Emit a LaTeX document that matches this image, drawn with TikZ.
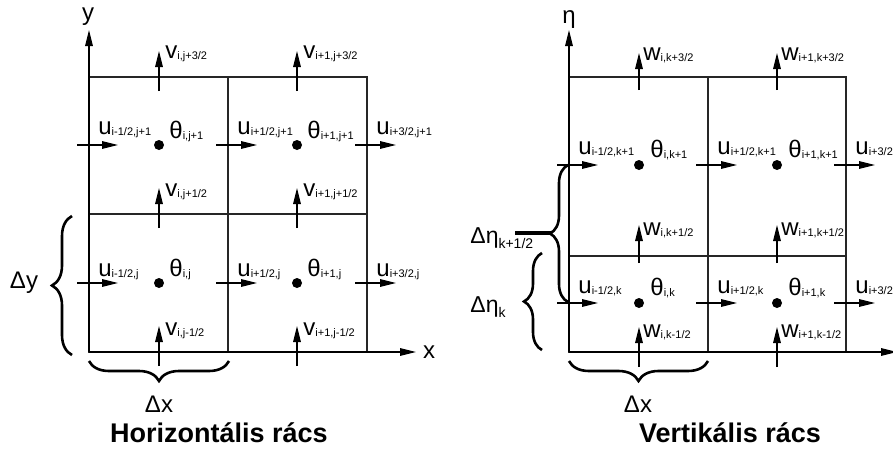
\documentclass[tikz,border=0pt]{standalone}
\usepackage{fontspec}
\setmainfont{Liberation Sans}
\usetikzlibrary{arrows.meta,decorations.pathreplacing,positioning}

% 变量标签: 主字母 + 下标
\newcommand{\vlab}[2]{{\fontsize{12}{12}\selectfont #1}\raisebox{-0.8pt}{\fontsize{5.5}{6}\selectfont #2}}
\newcommand{\dlab}[2]{{\fontsize{11.5}{12}\selectfont #1}\raisebox{-2.5pt}{\fontsize{7}{8}\selectfont #2}}

\tikzset{
    >={Triangle[length=8pt,width=3.8pt]},
    gridline/.style={line width=0.6pt, black!85},
    vec/.style={->, line width=0.6pt},
    dot/.style={circle, fill, inner sep=0pt, minimum size=5pt},
    lab/.style={anchor=base west, inner sep=0pt},
    brc/.style={decorate, decoration={brace, amplitude=#1}, line width=1.3pt},
    brc/.default=10pt,
    axlab/.style={font=\fontsize{12}{12}\selectfont},
    title/.style={font=\fontsize{13.5}{14}\selectfont\bfseries}
}

\begin{document}
\begin{tikzpicture}[x=0.5pt, y=-0.5pt]
    % --- 画布范围 (右侧被裁切) ---
    \useasboundingbox (0,0) rectangle (893,450);
    \clip (0,0) rectangle (893,450);

    % ================= 左图: 水平网格 =================
    % --- 网格和坐标轴 ---
    \draw[gridline] (89,77) rectangle (367,352);
    \draw[gridline] (228,77) -- (228,352);
    \draw[gridline] (89,214) -- (367,214);
    \draw[vec] (89,352) -- (89,30);
    \draw[vec] (89,352) -- (416,352);
    \node[axlab] (ly) at (88,17) {y};
    \node[axlab] (lx) at (429,352) {x};

    % --- u 箭头 (水平) 和 v 箭头 (垂直) ---
    \foreach \x in {89,228,367} \foreach \y in {145,283}
        \draw[vec] (\x-12,\y) -- (\x+29,\y);
    \foreach \x in {159,297} \foreach \y in {77,214,352}
        \draw[vec] (\x,\y+14) -- (\x,\y-26);

    % --- θ 点 ---
    \node[dot] (tA) at (159,145) {};
    \node[dot] (tB) at (297,145) {};
    \node[dot] (tC) at (159,283) {};
    \node[dot] (tD) at (297,283) {};

    % --- 标签 ---
    \node[lab] (uA) at (98,134) {\vlab{u}{i-1/2,j+1}};
    \node[lab] (uB) at (237,134) {\vlab{u}{i+1/2,j+1}};
    \node[lab] (uC) at (376,134) {\vlab{u}{i+3/2,j+1}};
    \node[lab] (uD) at (98,276) {\vlab{u}{i-1/2,j}};
    \node[lab] (uE) at (237,276) {\vlab{u}{i+1/2,j}};
    \node[lab] (uF) at (376,276) {\vlab{u}{i+3/2,j}};
    \node[lab] (thA) at (169,138) {\vlab{θ}{i,j+1}};
    \node[lab] (thB) at (307,138) {\vlab{θ}{i+1,j+1}};
    \node[lab] (thC) at (169,276) {\vlab{θ}{i,j}};
    \node[lab] (thD) at (307,276) {\vlab{θ}{i+1,j}};
    \node[lab] (vA) at (165,58) {\vlab{v}{i,j+3/2}};
    \node[lab] (vB) at (303,58) {\vlab{v}{i+1,j+3/2}};
    \node[lab] (vC) at (165,196) {\vlab{v}{i,j+1/2}};
    \node[lab] (vD) at (303,196) {\vlab{v}{i+1,j+1/2}};
    \node[lab] (vE) at (165,335) {\vlab{v}{i,j-1/2}};
    \node[lab] (vF) at (303,335) {\vlab{v}{i+1,j-1/2}};

    % --- 大括号 Δy, Δx ---
    \draw[brc] (72,355) -- (72,216);
    \node[axlab] (dy) at (24,283) {Δy};
    \draw[brc] (229,361) -- (89,361);
    \node[axlab] (dxA) at (159,404) {Δx};
    \node[title] (hz) at (219,433) {Horizontális rács};

    % ================= 右图: 垂直网格 =================
    % --- 网格和坐标轴 ---
    \draw[gridline] (569,77) rectangle (846,352);
    \draw[gridline] (708,77) -- (708,352);
    \draw[gridline] (569,256) -- (846,256);
    \draw[vec] (569,352) -- (569,30);
    \draw[vec] (569,352) -- (897,352);
    \node[axlab] (leta) at (569,20) {η};

    % --- u 箭头和 w 箭头 ---
    \foreach \x in {569,708,846} \foreach \y in {165,303}
        \draw[vec] (\x-12,\y) -- (\x+29,\y);
    \foreach \x in {639,777} {
        \draw[vec] (\x,90) -- (\x,53);
        \draw[vec] (\x,263) -- (\x,225);
        \draw[vec] (\x,367) -- (\x,327);
    }

    % --- θ 点 ---
    \node[dot] (sA) at (639,165) {};
    \node[dot] (sB) at (777,165) {};
    \node[dot] (sC) at (639,303) {};
    \node[dot] (sD) at (777,303) {};

    % --- 标签 ---
    \node[lab] (qA) at (578,154) {\vlab{u}{i-1/2,k+1}};
    \node[lab] (qB) at (717,154) {\vlab{u}{i+1/2,k+1}};
    \node[lab] (qC) at (855,154) {\vlab{u}{i+3/2,k+1}};
    \node[lab] (qD) at (578,293) {\vlab{u}{i-1/2,k}};
    \node[lab] (qE) at (717,293) {\vlab{u}{i+1/2,k}};
    \node[lab] (qF) at (855,293) {\vlab{u}{i+3/2,k}};
    \node[lab] (phA) at (650,157) {\vlab{θ}{i,k+1}};
    \node[lab] (phB) at (788,157) {\vlab{θ}{i+1,k+1}};
    \node[lab] (phC) at (650,295) {\vlab{θ}{i,k}};
    \node[lab] (phD) at (788,295) {\vlab{θ}{i+1,k}};
    \node[lab] (wA) at (643,60) {\vlab{w}{i,k+3/2}};
    \node[lab] (wB) at (781,60) {\vlab{w}{i+1,k+3/2}};
    \node[lab] (wC) at (643,235) {\vlab{w}{i,k+1/2}};
    \node[lab] (wD) at (781,235) {\vlab{w}{i+1,k+1/2}};
    \node[lab] (wE) at (643,337) {\vlab{w}{i,k-1/2}};
    \node[lab] (wF) at (781,337) {\vlab{w}{i+1,k-1/2}};

    % --- 大括号 Δη, Δx ---
    \draw[brc=9pt] (568,302) -- (568,165);
    \draw[line width=2pt] (551,233) -- (515,233);
    \node[lab] (deA) at (470,243) {\dlab{Δη}{k+1/2}};
    \draw[brc=9pt] (542,350) -- (542,253);
    \node[lab] (deB) at (470,312) {\dlab{Δη}{k}};
    \draw[brc] (708,361) -- (569,361);
    \node[axlab] (dxB) at (638,404) {Δx};
    \node[title] (vt) at (730,433) {Vertikális rács};
\end{tikzpicture}
\end{document}
